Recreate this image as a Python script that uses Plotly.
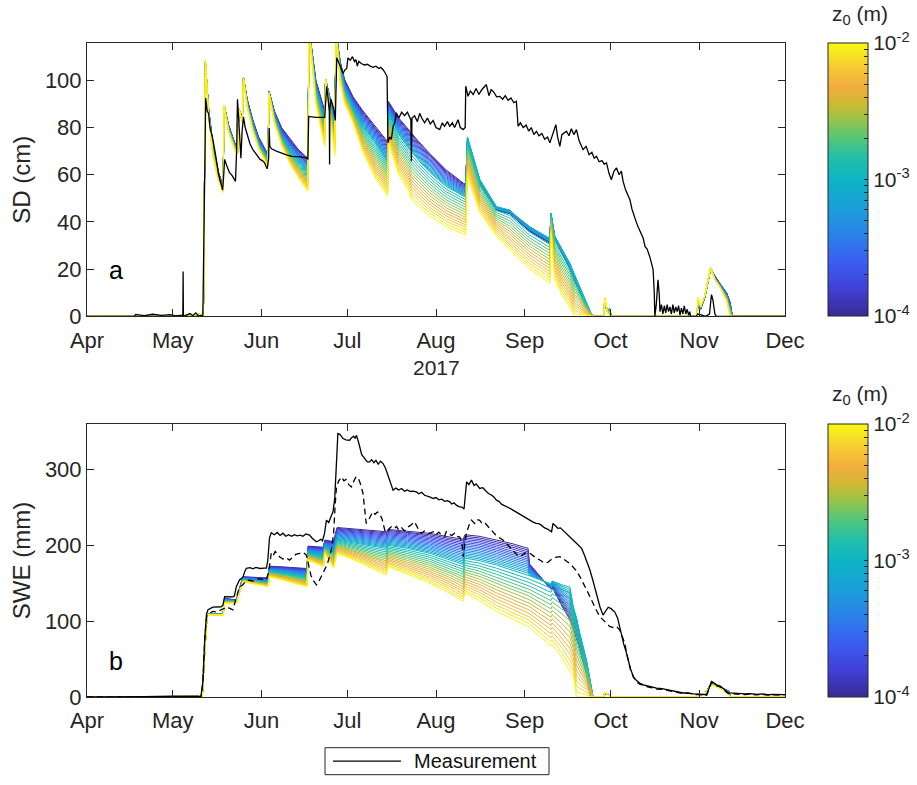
import plotly.graph_objects as go
import pandas as pd
import numpy as np

BASE = pd.Timestamp("2017-04-01")

# ---------------- axis ticks ----------------
month_ticks = ["2017-04-01", "2017-05-01", "2017-06-01", "2017-07-01", "2017-08-01",
               "2017-09-01", "2017-10-01", "2017-11-01", "2017-12-01"]
month_labels = ["Apr", "May", "Jun", "Jul", "Aug", "Sep", "Oct", "Nov", "Dec"]

# ---------------- measured snow depth (cm), day offset from 1 Apr 2017 ----------------
sd_obs_day = [0, 16.5, 17, 20, 23, 26, 29, 31, 33.3, 33.5, 33.6, 33.7, 36, 37, 38, 39, 40.5,
              40.8, 41.2, 41.5, 42.0, 42.5, 43, 44, 45, 46, 47, 47.4, 47.8, 48.1, 48.8, 49.8, 50.8,
              51.9, 52.3, 52.6, 53.0, 53.4, 53.8, 54.2, 54.7, 55.3, 56.2, 57, 58, 59, 59.7, 60.5,
              61.3, 62.1, 62.6, 63, 63.5, 63.7, 63.9, 64.5, 66.2, 68, 69.7, 71.7, 74, 76.7, 77.2,
              77.5, 78.5, 80, 83.1, 83.5, 83.8, 84.3, 84.7, 84.8, 84.9, 85.3, 86.3, 86.8, 87.1,
              87.3, 88.3, 89, 89.5, 90.2, 90.8, 91.2, 92, 92.8, 93.5, 94, 94.5, 95, 96, 97, 98,
              99, 100, 101, 102, 102.7, 103.5, 104.3, 104.9, 105.2, 105.8, 106.4, 107, 107.6,
              108.1, 109, 110, 111, 112, 113.2, 113.4, 113.6, 114.5, 115.5, 116.3, 117, 118, 119,
              120, 121, 122, 123.3, 124.2, 125, 126, 126.8, 127.7, 128.5, 129.7, 130.5, 131.5,
              132.2, 132.4, 133.2, 134, 135, 136, 137, 138, 139.6, 140.5, 141.3, 142.2, 143.2,
              144.3, 145.3, 146.2, 147.2, 148.2, 149.2, 150.1, 150.7, 151.5, 152.5, 153.5, 154.4,
              155.3, 156.2, 157.1, 158, 159, 160, 161, 161.8, 162.5, 163.9, 164.5, 165.3, 166,
              167.6, 168.5, 169.3, 170.2, 171.1, 172, 172.8, 173.4, 174.5, 175.5, 176.5, 177.3,
              178.1, 179, 180, 180.8, 181.6, 182.5, 183.3, 184.2, 185.1, 186, 186.8, 187.4, 188.3,
              189.1, 189.8, 190.5, 191.2, 192.1, 192.8, 193.5, 194.4, 195.1, 195.8, 196.7, 197.4,
              197.9, 198.3, 198.5, 199.0, 199.6, 200.0, 200.3, 200.8, 201.3, 201.8, 202.3, 202.8,
              203.3, 203.8, 204.3, 204.8, 205.3, 205.8, 206.3, 206.8, 207.3, 207.8, 208.3, 208.8,
              209.3, 209.8, 210.3, 210.7, 211, 213, 213.5, 215, 216.2, 217.6, 218.3, 218.8, 219.5,
              220, 244]
sd_obs_val = [0, 0, 0.8, 0.3, 0.9, 0.4, 0.7, 0.2, 0.5, 0, 19, 0, 1.2, 0.3, 1.5, 0.2, 0.5,
              30, 75, 92.5, 87, 86, 80, 75, 68, 60, 55.5, 53.5, 60, 66.5, 64, 61, 59.5,
              57.2, 70, 92, 84, 72, 67, 78, 84.5, 80, 76, 73, 70.6, 69, 67.8, 66.5,
              66, 65, 63.5, 62.5, 67, 79.8, 72, 71, 70, 69, 68.4, 67.8, 67.7, 67.1, 66.5,
              84.7, 84.5, 84.3, 84.3, 90, 97.5, 92, 87, 64.3, 88, 92, 87.6, 83, 99,
              109.5, 106.6, 104, 103, 104.5, 105, 109.5, 108.5, 110, 108, 108.8, 106, 108, 107, 106.5, 106.8,
              106, 105.5, 106, 105, 105.5, 104.5, 103, 101.5, 73.5, 76, 75, 80.5, 82,
              86.2, 84, 86.5, 85, 86.5, 83.3, 65.7, 84, 85, 82.5, 86, 84, 82, 84,
              81.5, 83, 80, 79.1, 82, 80.5, 82.5, 80.5, 82, 80, 83.3, 80, 79.1,
              80, 97.5, 93.2, 95.5, 94, 96.5, 94, 96, 98.2, 93.5, 96, 95, 93,
              93.2, 92, 93.5, 91.5, 92.5, 90.5, 91.1, 80.5, 82, 80, 81, 78.5,
              80, 77, 78.4, 76.5, 77.5, 75, 76, 73.5, 76, 81.2, 76, 72, 77,
              78.4, 76.5, 79.5, 77, 79.1, 74.5, 72.5, 70.6, 72, 68.5, 69.5, 67,
              67.8, 65.5, 66, 64.5, 65, 60.5, 57.9, 61.5, 62.9, 60, 61.5, 57.2, 53.5,
              51.5, 49.4, 45.5, 42.5, 39.6, 37.5, 35.5, 33.2, 29.5, 28.5, 25.4, 22,
              19.8, 10, 0, 5, 15.5, 10, 2, 5, 1, 4.5, 1.5, 5,
              2, 4, 1, 5, 1.5, 4, 2, 4.5, 0.5, 3.5, 1, 4.5,
              1, 3, 0.5, 2, 0, 0, 1, 0.5, 0, 1, 9.2, 7, 1,
              0, 0]

# ---------------- simulated snow depth (cm) for z0 = 1e-4, 1e-3, 1e-2 ----------------
sd_sim_day = [0, 33, 35, 37, 39, 40.7, 41.4, 42.5, 44, 46, 47.6, 47.9, 49.5, 51.8, 52.7, 53.1,
              54.3, 54.7, 56, 58, 60, 63.3, 63.6, 65.5, 68, 71, 74, 77.2, 77.6, 80, 83.1, 83.4,
              86.6, 87.1, 88.5, 90, 93, 96.5, 101, 105.1, 105.4, 109, 112.5, 113.5, 116, 119.8,
              125.6, 131.5, 132.3, 133.0, 135, 137.3, 143.1, 147.8, 150.1, 154.8, 161.8, 162.2,
              163.5, 166, 168.8, 170.5, 172.3, 174.5, 176.3, 177.2, 180.6, 181.0, 181.8, 182.7,
              183.3, 213.2, 213.6, 214.5, 216, 218.0, 219.5, 221.2, 223.6, 224.8, 225.6, 244]
sd_sim_z4 = [0, 0, 0.3, 0.2, 0.5, 0.3, 107, 88, 73, 61, 55, 89.5, 81, 73, 71, 88,
             84, 101, 92, 83, 76, 68.5, 95.5, 87, 80, 75, 70.5, 67, 122, 100, 87, 100.5,
             84, 120, 108, 100.5, 93, 87, 80, 74, 91, 84, 79, 77.5, 74, 69,
             62, 56.5, 56, 73, 65, 56, 45, 43.5, 41, 36, 31, 42,
             33, 27, 20, 15, 10, 4, 0, 0, 0, 6, 2, 3,
             0, 0, 5, 3, 8, 20, 17, 14, 10, 6, 0, 0]
sd_sim_z3 = [0, 0, 0.4, 0.3, 0.6, 0.3, 107.5, 87, 71, 59, 54, 89.5, 79.5, 71.5, 70, 88,
             83, 101, 90, 80.5, 73, 66, 95, 84.5, 76, 70, 65.5, 61, 122, 96, 82, 100.5,
             80, 120, 105, 96, 88, 80, 73, 65, 86, 77, 71, 69.5, 66, 61,
             55, 51, 50.5, 76, 68, 58, 46.5, 45, 42.5, 38, 33, 43.8,
             34, 28.5, 22.5, 17.5, 12.5, 6, 1, 0, 0, 7, 3, 3,
             0, 0, 6, 4, 8.5, 20.5, 16, 13, 8.5, 3, 0, 0]
sd_sim_z2 = [0, 0, 0.8, 0.5, 1.2, 0.5, 108.5, 85, 68, 57, 52.5, 89.5, 78, 70, 69, 88,
             82, 101, 88.5, 78.5, 71, 63.5, 94.5, 82, 72.5, 64.5, 58.5, 53, 122, 90, 72, 100.5,
             68, 120, 99, 90.5, 82, 69.5, 58, 51, 73.5, 60, 53, 49.5, 46.5, 42.5,
             38, 35, 34.5, 59, 52, 44, 34, 28, 25.5, 20, 14, 35,
             16, 9, 4, 0, 0, 0, 0, 0, 0, 8, 2, 0,
             0, 0, 8, 4, 9, 20.5, 15.5, 12.5, 6.5, 0, 0, 0]

# ---------------- measured SWE (mm): solid and dashed records ----------------
swe_obs_day = [0, 10, 20, 30, 36, 39, 39.8, 40.5, 41.2, 41.8, 42.3, 44, 46.9, 47.5, 48.1, 51, 51.5,
               52.2, 53.3, 54.5, 55.2, 55.7, 57, 58, 59, 60.5, 62, 62.7, 63.2, 63.8, 64.4, 65.5,
               66.5, 67.5, 68.5, 69.5, 70.5, 71.5, 72.5, 73.5, 74.5, 75.5, 76.5, 77.8, 78.8, 80.2,
               81, 81.7, 82.3, 83, 83.7, 84.5, 85.3, 86, 86.6, 87.2, 87.7, 88.5, 89.5, 90.5, 91.8,
               92.5, 93.2, 93.7, 94.2, 95, 96, 97.1, 98, 98.8, 99.5, 100.3, 101, 101.8, 102.6,
               103.5, 104.3, 105.2, 106, 107, 108, 109, 110, 111, 112, 113, 114, 115.1, 116, 117,
               118, 119, 120, 121, 122, 123, 124, 125, 126, 126.8, 127.5, 128.3, 129.1, 130, 131,
               131.8, 132.3, 132.7, 133.5, 134.4, 135.3, 136, 137.3, 138.4, 139.6, 140.5, 141.5,
               142.3, 143.1, 144, 145, 146, 147, 148, 148.9, 150, 151, 152, 153, 154, 154.8, 155.8,
               157, 158, 159, 160, 161, 162.4, 162.9, 163.8, 164.6, 165.5, 166.4, 167.5, 168.5,
               169.9, 171, 172, 172.9, 173.8, 174.8, 175.8, 176.9, 178.1, 179.3, 180.4, 181.2,
               182.2, 183.2, 184.5, 185.5, 186.8, 187.6, 188.6, 189.2, 190, 191, 192, 193.2, 194.5,
               196, 197.5, 199.1, 201, 203, 205, 206.5, 208.4, 210, 212, 214, 215.5, 216.6, 217.3,
               218.3, 219, 220.1, 221.5, 222.6, 223.5, 224.2, 226, 228, 230, 232, 234, 236, 238,
               240, 242, 244]
swe_obs_val = [0, 0, 0.5, 1, 1.5, 1, 0, 20, 80, 110, 115, 118.4, 119, 121, 132.4, 132, 133,
               145.5, 154.3, 158, 166, 169.7, 170.5, 169, 171, 169.5, 170, 170, 180, 210, 216.6, 214,
               217, 213, 216, 212, 214, 212, 214, 212.5, 213.5, 212, 215, 213.5, 209, 204.7,
               206, 208, 206, 215, 233.3, 230, 238, 244.3, 262, 320, 347.4, 346, 340.8, 339, 338.6,
               342, 344, 341, 345, 335, 320, 314.5, 310, 310, 313, 309, 312, 307, 311,
               307.9, 302, 292.5, 283, 272.8, 275.5, 273, 275, 271.5, 273, 271, 271.5, 270.5, 268, 270,
               266, 265, 263.5, 261.8, 263, 260, 261, 258, 259, 257.4, 254.5, 256, 253, 251, 250.5,
               248, 268, 283.7, 280, 286, 279, 281, 275, 276, 271, 268, 266,
               263.5, 259.6, 258, 254, 252.5, 250, 248.5, 246.4, 244, 241, 239.5, 236.5, 235, 233.3, 231,
               229, 228.5, 226, 223, 221.5, 217.9, 229, 226, 222.5, 223, 220, 216, 213,
               207, 203, 199.5, 196, 188, 178, 167.5, 153, 136.8, 119, 108, 113,
               118.4, 116.5, 112, 104, 82, 70, 57.9, 49, 37, 27, 22, 18.4, 16,
               14.5, 13, 11.8, 11, 9.5, 7.5, 7, 5.3, 5.5, 4, 3.8, 3.5, 3, 10,
               20.5, 19, 16, 14, 10, 6.5, 5.3, 5, 4.5, 4, 4.5, 3.5, 4, 3,
               3.5, 3, 3]

swe_obs2_day = [0, 39.8, 40.5, 41.2, 41.8, 42.5, 44, 45.5, 46.8, 48.1, 48.7, 50, 51, 51.8, 52.6,
                53.3, 54.5, 55.3, 56.2, 58, 60, 62, 62.7, 63.5, 64.4, 65, 65.8, 67.3, 68.5, 69.5,
                70.8, 72, 73, 74.3, 75.5, 76.7, 77.5, 78.3, 79, 80.2, 81, 82, 83.1, 84, 85.4, 86.2,
                86.7, 87.2, 88, 89, 89.8, 90.6, 91.5, 92.4, 93.3, 94, 94.7, 95.5, 96.5, 97.1, 97.6,
                98.5, 99.2, 99.9, 100.7, 101.5, 102.3, 103.2, 104.1, 105, 105.6, 106.4, 107.3,
                108.2, 109, 110, 111, 112, 113, 113.7, 114.5, 115.2, 116, 116.9, 118, 119, 119.8,
                121, 122, 123, 124, 125, 125.6, 126.5, 127.5, 128.5, 129.3, 130.3, 131, 131.5, 132,
                132.6, 133.5, 134.4, 135.5, 136.3, 137.3, 138.2, 139.2, 140.2, 141.5, 142.8, 144,
                145.4, 146.5, 147.8, 149, 150.2, 151.3, 152.5, 153.7, 154.8, 156, 157.3, 158.6, 160,
                161.3, 162.5, 163.8, 165.3, 166.5, 167.8, 168.8, 170, 171.2, 172.3, 173.5, 174.7,
                175.8, 177, 178.1, 179.3, 180.4, 181.6, 182.7, 184, 185.1, 186.2, 187.4, 188, 188.6,
                189.2, 190, 191, 192, 193.2, 194.5, 196, 197.5, 199.1, 201, 203, 205, 206.5, 208.4,
                210, 212, 214, 215.5, 216.6, 217.3, 218.3, 219, 220.1, 221.5, 222.6, 223.5, 224.2,
                226, 228, 230, 232, 234, 236, 238, 240, 242, 244]
swe_obs2_val = [0, 0, 18, 78, 106, 110, 113, 112, 115, 117, 119, 117, 115, 126, 135,
                145, 148, 152, 154.3, 153, 156, 154.5, 155, 165, 189.5, 186, 192, 185, 182, 184,
                180.6, 184, 188, 189.5, 191, 187, 175, 160, 154.3, 147.8, 152, 160, 167.5, 175, 193.8, 215,
                250, 277, 285, 290.3, 285, 287, 280, 277, 285, 290, 290, 282, 268.4, 245, 229,
                234, 240, 244.3, 241, 244, 242, 234, 220, 217, 222, 224.5, 222,
                225, 220, 223, 219, 224, 226, 229, 231, 226, 220, 215.8, 219, 217, 215.8,
                218, 214, 217.5, 213, 212, 218, 215, 213, 216, 212, 211, 205, 185, 200,
                215.8, 226, 233.3, 229, 234, 233, 228, 229, 224.5, 220, 214, 210.5,
                207, 203, 197.5, 192, 188, 185, 188, 191, 189.5, 186, 182.5, 180, 176.3,
                178, 182, 184, 185, 182, 178, 176, 171, 166, 158.7, 150.5, 141,
                132.4, 122, 114, 106, 101.7, 97.4, 93, 91.5, 92.9, 88.6, 75.4, 71, 58,
                48, 36, 26, 20.5, 17, 15, 13.5, 12, 10.5, 10, 8.5, 7, 6, 4.5,
                5, 3.5, 3, 3, 2.5, 9, 19, 18, 15, 13, 9, 6, 4.5,
                4, 3.5, 3.2, 3.8, 2.8, 3.5, 2.5, 3, 2.5, 3]

# ---------------- simulated SWE (mm) for z0 = 1e-4, 1e-3, 1e-2 ----------------
swe_sim_day = [0, 33, 39, 40.3, 41.0, 42.0, 47.6, 48.1, 52.2, 53.0, 54.5, 63.3, 63.8, 70, 76.9,
               77.3, 82.7, 83.1, 86.2, 87.4, 95, 104.6, 105.2, 112, 119.8, 126.8, 131.5, 132.1,
               137, 143.1, 148.9, 154.2, 154.6, 162.2, 162.6, 166, 168.8, 170, 171.1, 172.3,
               174.6, 176.0, 176.9, 180.6, 181.0, 182.2, 183.0, 213.2, 214, 216, 218.2, 220, 222,
               224.3, 225, 244]
swe_sim_z4 = [0, 0, 0.5, 0.5, 50, 110, 109.5, 130, 128, 140, 158.5, 157, 172.5, 171.5, 169.5,
              199, 197.5, 207, 205, 223.5, 221, 218, 221, 219, 215.8, 211, 208, 214,
              212, 207, 202, 196, 176, 142, 145, 120, 102, 90, 78, 62,
              30, 0, 0, 0, 4, 3, 0, 0, 2, 4, 18, 15, 12,
              8, 0, 0]
swe_sim_z3 = [0, 0, 0.5, 0.5, 50, 109.5, 109, 127, 126, 137, 155, 151, 166, 163, 158,
              190, 185, 198, 190, 207, 202, 196, 200, 196, 189.5, 181, 175, 183,
              180, 174, 167, 161, 160, 149, 153, 148, 145, 119, 105, 84,
              49, 20, 0, 0, 5, 4, 0, 0, 2, 4, 17, 14, 11,
              6, 0, 0]
swe_sim_z2 = [0, 0, 1, 1, 50, 108.5, 108, 123.5, 123.5, 134, 152, 145.5, 158.5, 152.5, 145.5,
              180.5, 172, 189.5, 170, 189.5, 178, 161, 172, 162, 150, 137, 126, 137,
              128, 113, 103, 93, 92, 67, 70, 52, 34, 28, 0, 0,
              0, 0, 0, 0, 6, 3, 0, 0, 2, 4, 16, 13.5, 10.5,
              3, 0, 0]

# ---------------- roughness-length ensemble (log10 z0) ----------------
z0_log_min, z0_log_max = -4.0, -2.0
n_members = 31
legend_label = "Measurement"

PARULA = [[0.00, "#3A2A95"], [0.10, "#4040D8"], [0.20, "#3A5FF0"], [0.30, "#2A82EA"],
          [0.40, "#1AA0D8"], [0.50, "#0DB4C4"], [0.58, "#24BFA8"], [0.66, "#5CC673"],
          [0.73, "#A2C244"], [0.78, "#D0B934"], [0.84, "#F2AD3F"], [0.90, "#F6C535"],
          [0.96, "#F5E524"], [1.00, "#F9FA10"]]


def hex2rgb(h):
    h = h.lstrip("#")
    return [int(h[i:i + 2], 16) for i in (0, 2, 4)]


def cmap(f):
    f = min(max(f, 0.0), 1.0)
    for (f0, c0), (f1, c1) in zip(PARULA[:-1], PARULA[1:]):
        if f <= f1:
            t = 0 if f1 == f0 else (f - f0) / (f1 - f0)
            a, b = hex2rgb(c0), hex2rgb(c1)
            r = [round(a[k] + (b[k] - a[k]) * t) for k in range(3)]
            return "rgb(%d,%d,%d)" % tuple(r)
    return PARULA[-1][1]


def to_dates(days):
    return [BASE + pd.Timedelta(days=float(d)) for d in days]


def member(L, lo, mid, hi):
    lo, mid, hi = np.array(lo), np.array(mid), np.array(hi)
    if L <= -3:
        w = L + 4
        return lo * (1 - w) + mid * w
    w = L + 3
    return mid * (1 - w) + hi * w


fig = go.Figure()

logs = np.linspace(z0_log_min, z0_log_max, n_members)
sd_x = to_dates(sd_sim_day)
swe_x = to_dates(swe_sim_day)
for L in logs:
    col = cmap((L - z0_log_min) / (z0_log_max - z0_log_min))
    fig.add_trace(go.Scatter(x=sd_x, y=member(L, sd_sim_z4, sd_sim_z3, sd_sim_z2), mode="lines",
                             line=dict(color=col, width=1), showlegend=False, hoverinfo="skip",
                             xaxis="x", yaxis="y"))
    fig.add_trace(go.Scatter(x=swe_x, y=member(L, swe_sim_z4, swe_sim_z3, swe_sim_z2), mode="lines",
                             line=dict(color=col, width=1), showlegend=False, hoverinfo="skip",
                             xaxis="x2", yaxis="y2"))

fig.add_trace(go.Scatter(x=to_dates(sd_obs_day), y=sd_obs_val, mode="lines", name=legend_label,
                         line=dict(color="black", width=1.3), showlegend=False, xaxis="x", yaxis="y"))
fig.add_trace(go.Scatter(x=to_dates(swe_obs2_day), y=swe_obs2_val, mode="lines",
                         line=dict(color="black", width=1.3, dash="6px,4px"), showlegend=False,
                         xaxis="x2", yaxis="y2"))
fig.add_trace(go.Scatter(x=to_dates(swe_obs_day), y=swe_obs_val, mode="lines", name=legend_label,
                         line=dict(color="black", width=1.3), showlegend=False,
                         xaxis="x2", yaxis="y2"))

# colorbars
cb_vals, cb_text = [], []
for dec in (-4, -3):
    cb_vals.append(dec)
    cb_text.append("10<sup>%d</sup>" % dec)
    for k in range(2, 10):
        cb_vals.append(dec + np.log10(k))
        cb_text.append("")
cb_vals.append(-2)
cb_text.append("10<sup>-2</sup>")

for yref, ytop in (("y", 1.0), ("y2", 0.4174)):
    fig.add_trace(go.Scatter(
        x=[None], y=[None], mode="markers", showlegend=False, hoverinfo="skip",
        xaxis="x" if yref == "y" else "x2", yaxis=yref,
        marker=dict(color=[-3], colorscale=PARULA, cmin=z0_log_min, cmax=z0_log_max, showscale=True,
                    colorbar=dict(x=1.0612, xanchor="left", y=ytop, yanchor="top",
                                  thickness=40, thicknessmode="pixels", len=273, lenmode="pixels",
                                  xpad=0, ypad=0, outlinewidth=1, outlinecolor="#262626",
                                  ticks="inside", ticklen=4, tickcolor="#262626",
                                  tickvals=cb_vals, ticktext=cb_text,
                                  tickfont=dict(size=21, color="#262626")))))

axis_style = dict(showline=True, linecolor="#262626", linewidth=1, mirror="ticks", ticks="inside",
                  ticklen=7, tickwidth=1, tickcolor="#262626", showgrid=False, zeroline=False,
                  tickfont=dict(size=22, color="#262626"))

xcommon = dict(type="date", range=["2017-04-01", "2017-12-01"], tickvals=month_ticks,
               ticktext=month_labels, ticklabelstandoff=4, **axis_style)

# legend box (drawn below the lower panel, as in the reference)
leg_shapes = [
    dict(type="rect", xref="paper", yref="paper", x0=0.341, x1=0.6619, y0=-0.1188, y1=-0.0775,
         line=dict(color="#262626", width=1), fillcolor="white"),
    dict(type="line", xref="paper", yref="paper", x0=0.3524, x1=0.4499, y0=-0.0982, y1=-0.0982,
         line=dict(color="black", width=1.3)),
]

fig.update_layout(
    width=917, height=785,
    margin=dict(l=87, r=132, t=43, b=88, autoexpand=False),
    paper_bgcolor="white", plot_bgcolor="white",
    showlegend=False,
    font=dict(family="Liberation Sans, Arial, sans-serif", color="#262626"),
    xaxis=dict(domain=[0, 1], anchor="y", **xcommon),
    xaxis2=dict(domain=[0, 1], anchor="y2", **xcommon),
    yaxis=dict(domain=[0.582, 1], anchor="x", range=[0, 115.8], tickvals=[0, 20, 40, 60, 80, 100],
               ticklabelstandoff=0, title=dict(text="SD (cm)", font=dict(size=24), standoff=7),
               **axis_style),
    yaxis2=dict(domain=[0, 0.4174], anchor="x2", range=[0, 360], tickvals=[0, 100, 200, 300],
                ticklabelstandoff=0, title=dict(text="SWE (mm)", font=dict(size=24), standoff=7),
                **axis_style),
    shapes=leg_shapes,
    annotations=[
        dict(text=legend_label, x=0.4656, y=-0.0982, xref="paper", yref="paper", xanchor="left",
             yanchor="middle", showarrow=False, font=dict(size=20, color="#111111")),
        dict(text="a", x=0.0287, y=0.629, xref="paper", yref="paper", xanchor="left",
             yanchor="bottom", showarrow=False, font=dict(size=25, color="black")),
        dict(text="b", x=0.0287, y=0.031, xref="paper", yref="paper", xanchor="left",
             yanchor="bottom", showarrow=False, font=dict(size=25, color="black")),
        dict(text="2017", x=0.501, y=0.5035, xref="paper", yref="paper", xanchor="center",
             yanchor="middle", showarrow=False, font=dict(size=21, color="#262626")),
        dict(text="z<sub>0</sub> (m)", x=1.1075, y=1.0433, xref="paper", yref="paper",
             xanchor="center", yanchor="middle", showarrow=False, font=dict(size=21, color="#262626")),
        dict(text="z<sub>0</sub> (m)", x=1.1075, y=0.4622, xref="paper", yref="paper",
             xanchor="center", yanchor="middle", showarrow=False, font=dict(size=21, color="#262626")),
    ],
)

fig.write_html("out.html")
